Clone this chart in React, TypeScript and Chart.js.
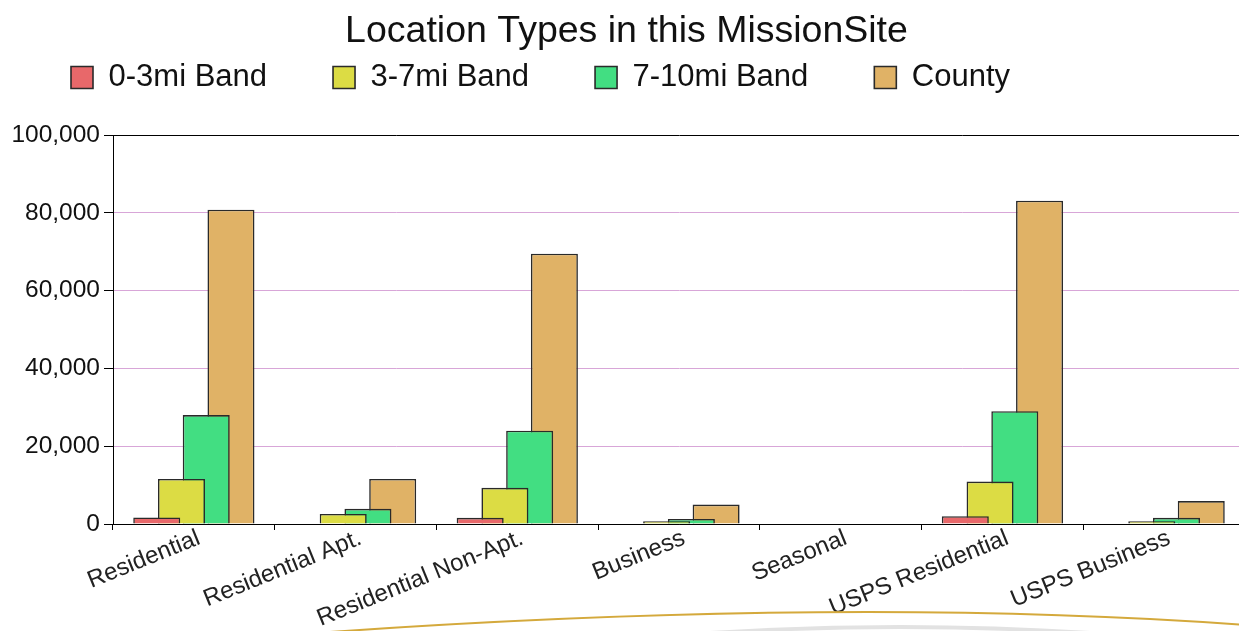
import React, { useEffect, useRef } from 'react';
import { Chart, registerables } from 'chart.js';

Chart.register(...registerables);

const categories = [
  'Residential',
  'Residential Apt.',
  'Residential Non-Apt.',
  'Business',
  'Seasonal',
  'USPS Residential',
  'USPS Business',
];
const band0to3 = [1700, 0, 1600, 0, 0, 2000, 0];
const band3to7 = [11600, 2600, 9300, 700, 0, 10900, 700];
const band7to10 = [28000, 3900, 24000, 1300, 0, 29000, 1600];
const county = [80800, 11600, 69500, 5000, 0, 83100, 5900];
const seriesLabels = ['0-3mi Band', '3-7mi Band', '7-10mi Band', 'County'];
const seriesColors = ['#E8686A', '#DCDC44', '#42DE82', '#E0B266'];
const yMin = 0;
const yMax = 100000;
const yStep = 20000;
const chartTitle = 'Location Types in this MissionSite';

const FONT = "'Liberation Sans', Arial, sans-serif";
const LEGEND_PAD = 66;
const LEGEND_ITEM_Y = 54;

const legendShift = {
  id: 'legendShift',
  afterLayout(chart: any) {
    if (chart.legend) {
      chart.legend.top = LEGEND_ITEM_Y - LEGEND_PAD;
      chart.legend.left = -3;
    }
  },
};

export default function App() {
  const ref = useRef<HTMLCanvasElement | null>(null);

  useEffect(() => {
    if (!ref.current) return;
    const allSeries = [band0to3, band3to7, band7to10, county];
    const chart = new Chart(ref.current, {
      type: 'bar',
      data: {
        labels: categories,
        datasets: allSeries.map((d, i) => ({
          label: seriesLabels[i],
          data: d,
          backgroundColor: seriesColors[i],
          borderColor: '#2a2a2a',
          borderWidth: 1.6,
          categoryPercentage: 0.612,
          barPercentage: 1.9,
        })),
      },
      options: {
        responsive: false,
        animation: false,
        events: [],
        layout: { padding: { left: 0, right: 10, top: 0, bottom: 0 } },
        plugins: {
          title: {
            display: true,
            text: chartTitle,
            color: '#111',
            font: { family: FONT, size: 37.5, weight: 'normal' },
            padding: { top: 1, bottom: 0 },
          },
          legend: {
            display: true,
            position: 'top',
            align: 'start',
            maxHeight: 81,
            labels: {
              color: '#111',
              font: { family: FONT, size: 31 },
              boxWidth: 22,
              boxHeight: 22,
              padding: LEGEND_PAD,
            },
          },
          tooltip: { enabled: false },
        },
        scales: {
          x: {
            offset: true,
            grid: {
              display: true,
              drawOnChartArea: false,
              offset: true,
              color: '#000',
              tickColor: '#000',
              tickLength: 6,
            },
            border: { display: true, color: '#000', width: 1 },
            ticks: {
              autoSkip: false,
              maxRotation: 22,
              minRotation: 22,
              color: '#222',
              padding: -6,
              labelOffset: 5,
              font: { family: FONT, size: 24 },
            },
            afterFit(scale: any) {
              scale.height = 107;
            },
          },
          y: {
            min: yMin,
            max: yMax,
            ticks: {
              stepSize: yStep,
              color: '#111',
              padding: 4,
              font: { family: FONT, size: 24.5 },
            },
            grid: {
              color: (ctx: any) =>
                ctx.tick && (ctx.tick.value === yMax || ctx.tick.value === yMin)
                  ? '#000'
                  : '#D8A6D8',
              tickColor: '#000',
              tickLength: 9,
              lineWidth: 1,
            },
            border: { display: true, color: '#000', width: 1 },
            afterFit(scale: any) {
              scale.width = 105;
            },
          },
        },
      },
      plugins: [legendShift],
    });
    return () => chart.destroy();
  }, []);

  return (
    <div
      style={{
        position: 'fixed',
        left: 0,
        top: 0,
        width: '1239px',
        height: '631px',
        overflow: 'hidden',
        background: '#fff',
      }}
    >
      <canvas
        ref={ref}
        width={1247}
        height={623}
        style={{ position: 'absolute', left: '8px', top: '8px', width: '1247px', height: '623px' }}
      />
      <svg
        width="1239"
        height="631"
        style={{ position: 'absolute', left: 0, top: 0, pointerEvents: 'none' }}
      >
        <path d="M 600 642 Q 900 612 1200 642" stroke="#e2e2e2" strokeWidth="4" fill="none" />
        <path d="M 330 632 Q 850 596 1245 625" stroke="#D4A93C" strokeWidth="2" fill="none" />
      </svg>
    </div>
  );
}
